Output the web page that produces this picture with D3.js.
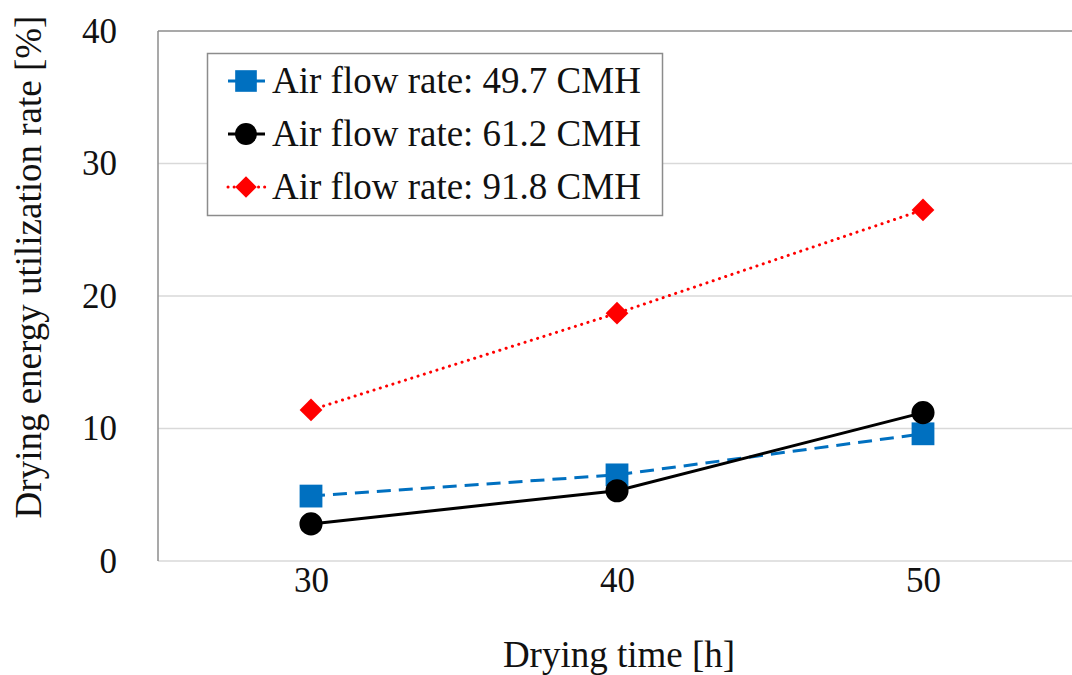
<!DOCTYPE html>
<html><head><meta charset="utf-8">
<script src="https://cdn.jsdelivr.net/npm/d3@7"></script>
<style>body{margin:0;background:#fff;} svg{display:block;}</style>
</head><body><svg id="c" width="1072" height="675"></svg>
<script>
const categories = [30, 40, 50];
const series49 = [4.9, 6.5, 9.6];
const series61 = [2.8, 5.3, 11.2];
const series91 = [11.4, 18.7, 26.5];
const seriesNames = ["Air flow rate: 49.7 CMH", "Air flow rate: 61.2 CMH", "Air flow rate: 91.8 CMH"];
const yTicks = [0, 10, 20, 30, 40];

const FONT = '"Liberation Serif"';
const svg = d3.select("#c");
const L = 158, R = 1076, T = 31, B = 561;
const x = d3.scalePoint().domain(categories).range([L, R]).padding(0.5);
const y = d3.scaleLinear().domain([0, 40]).range([B, T]);

svg.append("g").selectAll("line").data(yTicks.filter(d => d > 0 && d < 40)).join("line")
  .attr("x1", L).attr("x2", 1072).attr("y1", d => y(d)).attr("y2", d => y(d))
  .attr("stroke", "#d9d9d9").attr("stroke-width", 1.5);
svg.append("line").attr("x1", L).attr("x2", 1072).attr("y1", y(0)).attr("y2", y(0))
  .attr("stroke", "#d9d9d9").attr("stroke-width", 1.5);
svg.append("line").attr("x1", L).attr("x2", 1072).attr("y1", y(40)).attr("y2", y(40))
  .attr("stroke", "#8c8c8c").attr("stroke-width", 1.5);
svg.append("line").attr("x1", L).attr("x2", L).attr("y1", y(40)).attr("y2", y(0))
  .attr("stroke", "#8c8c8c").attr("stroke-width", 1.5);

const yAxis = svg.append("g").attr("transform", `translate(${L},0)`)
  .call(d3.axisLeft(y).tickValues(yTicks).tickSize(0).tickPadding(41));
yAxis.select(".domain").remove();
yAxis.selectAll("text").style("font-family", FONT).style("font-size", "35px").attr("fill", "#111");

const xAxis = svg.append("g").attr("transform", `translate(0,${B})`)
  .call(d3.axisBottom(x).tickSize(0));
xAxis.select(".domain").remove();
xAxis.selectAll("text").style("font-family", FONT).style("font-size", "35px").attr("fill", "#111")
  .attr("dy", null).attr("y", 31);

svg.append("text").attr("x", 619).attr("y", 667).attr("text-anchor", "middle")
  .style("font-family", FONT).style("font-size", "37px").attr("fill", "#111").text("Drying time [h]");
svg.append("text").attr("transform", "translate(41,267) rotate(-90)").attr("text-anchor", "middle")
  .style("font-family", FONT).style("font-size", "37px").attr("fill", "#111").text("Drying energy utilization rate [%]");

const cfg = [
  {vals: series49, color: "#0070C0", dash: "14,8", cap: "butt", sym: d3.symbolSquare, size: 520, name: seriesNames[0]},
  {vals: series61, color: "#000000", dash: null, cap: "butt", sym: d3.symbolCircle, size: 420, name: seriesNames[1]},
  {vals: series91, color: "#FF0000", dash: "0.1,6.5", cap: "round", sym: d3.symbolDiamond2, size: 330, name: seriesNames[2]}
];
const line = d3.line().x((d, i) => x(categories[i])).y(d => y(d));

const drawOrder = [2, 0, 1];
drawOrder.forEach(k => {
  const s = cfg[k];
  svg.append("path").attr("d", line(s.vals)).attr("fill", "none").attr("stroke", s.color)
    .attr("stroke-width", 3).attr("stroke-dasharray", s.dash).attr("stroke-linecap", s.cap);
});
drawOrder.forEach(k => {
  const s = cfg[k];
  svg.append("g").selectAll("path").data(s.vals).join("path")
    .attr("transform", (d, i) => `translate(${x(categories[i])},${y(d)})`)
    .attr("d", d3.symbol(s.sym, s.size)).attr("fill", s.color);
});

const lg = svg.append("g");
lg.append("rect").attr("x", 207.5).attr("y", 53.5).attr("width", 455).attr("height", 162)
  .attr("fill", "#fff").attr("stroke", "#8c8c8c").attr("stroke-width", 1.5);
const rowY = [81, 134, 187];
cfg.forEach((s, i) => {
  const yy = rowY[i];
  lg.append("line").attr("x1", 228).attr("x2", 265).attr("y1", yy).attr("y2", yy)
    .attr("stroke", s.color).attr("stroke-width", 3)
    .attr("stroke-dasharray", i === 2 ? "0.1,6" : null).attr("stroke-linecap", s.cap);
  lg.append("path").attr("transform", `translate(246,${yy})`)
    .attr("d", d3.symbol(s.sym, s.size * 0.9)).attr("fill", s.color);
  lg.append("text").attr("x", 272).attr("y", yy + 12)
    .style("font-family", FONT).style("font-size", "37px").attr("fill", "#111").text(s.name);
});
</script></body></html>
